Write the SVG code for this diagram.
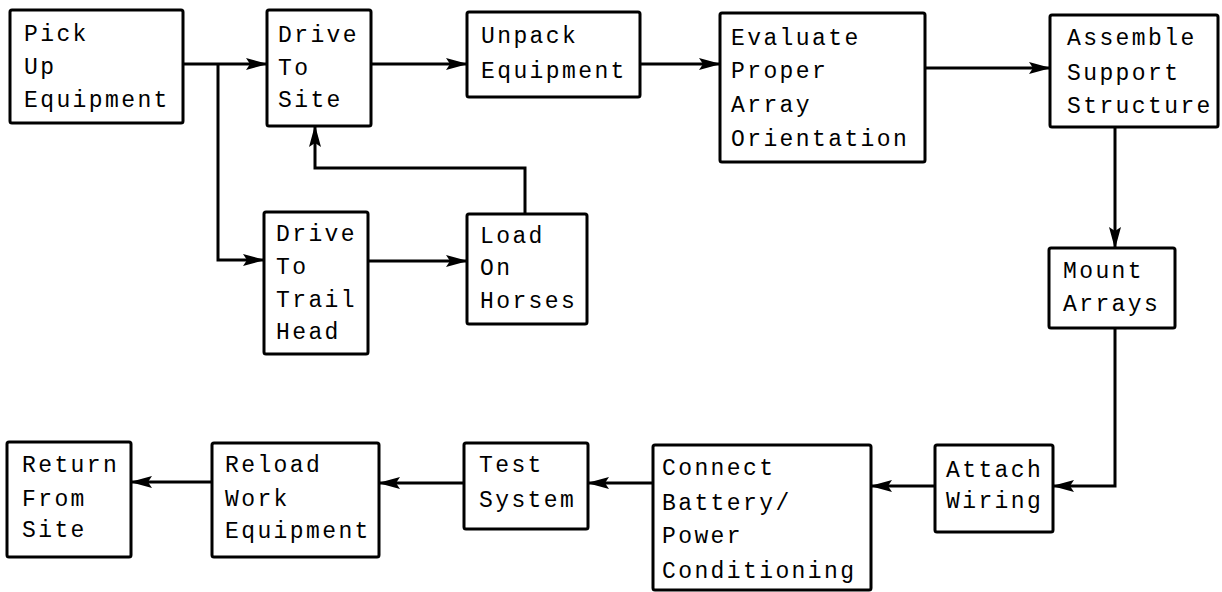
<svg xmlns="http://www.w3.org/2000/svg" width="1222" height="592" viewBox="0 0 1222 592">
  <style>
    .box { fill: #fff; stroke: #000; stroke-width: 3; }
    .lbl { font-family: "Liberation Mono", "DejaVu Sans Mono", monospace; font-size: 23px; letter-spacing: 2.4px; fill: #000; }
    .wire { fill: none; stroke: #000; stroke-width: 3; stroke-linejoin: miter; }
  </style>
  <defs>
    <marker id="arrow" markerUnits="userSpaceOnUse" markerWidth="22" markerHeight="12" refX="21" refY="6" orient="auto">
      <path d="M0,0 L22,6 L0,12 L4,6 Z" fill="#000"/>
    </marker>
  </defs>
  <rect width="1222" height="592" fill="#fff"/>

  <g id="connectors">
    <!-- pick up -> drive to site, with branch down to trail head -->
    <path class="wire" d="M183,64 H267" marker-end="url(#arrow)"/>
    <path class="wire" d="M218,64 V260 H264" marker-end="url(#arrow)"/>
    <!-- top row -->
    <path class="wire" d="M371,64 H467" marker-end="url(#arrow)"/>
    <path class="wire" d="M640,64 H720" marker-end="url(#arrow)"/>
    <path class="wire" d="M925,68 H1050" marker-end="url(#arrow)"/>
    <!-- trail head -> load on horses -> back to drive to site -->
    <path class="wire" d="M368,261 H467" marker-end="url(#arrow)"/>
    <path class="wire" d="M525,214 V168 H315 V126" marker-end="url(#arrow)"/>
    <!-- right column -->
    <path class="wire" d="M1115,127 V248" marker-end="url(#arrow)"/>
    <path class="wire" d="M1115,328 V486 H1053" marker-end="url(#arrow)"/>
    <!-- bottom row, right to left -->
    <path class="wire" d="M935,486 H871" marker-end="url(#arrow)"/>
    <path class="wire" d="M653,483 H588" marker-end="url(#arrow)"/>
    <path class="wire" d="M464,483 H379" marker-end="url(#arrow)"/>
    <path class="wire" d="M212,482 H131" marker-end="url(#arrow)"/>
  </g>

  <g id="pick-up">
    <rect class="box" x="10" y="10" width="173" height="113" rx="2"/>
    <text class="lbl" x="24" y="41">Pick</text>
    <text class="lbl" x="24" y="74">Up</text>
    <text class="lbl" x="24" y="107">Equipment</text>
  </g>

  <g id="drive-to-site">
    <rect class="box" x="267" y="10" width="104" height="116" rx="2"/>
    <text class="lbl" x="278" y="42">Drive</text>
    <text class="lbl" x="278" y="75">To</text>
    <text class="lbl" x="278" y="107">Site</text>
  </g>

  <g id="unpack">
    <rect class="box" x="467" y="12" width="173" height="85" rx="2"/>
    <text class="lbl" x="481" y="43">Unpack</text>
    <text class="lbl" x="481" y="78">Equipment</text>
  </g>

  <g id="evaluate">
    <rect class="box" x="720" y="13" width="205" height="149" rx="2"/>
    <text class="lbl" x="731" y="45">Evaluate</text>
    <text class="lbl" x="731" y="78">Proper</text>
    <text class="lbl" x="731" y="112">Array</text>
    <text class="lbl" x="731" y="146">Orientation</text>
  </g>

  <g id="assemble">
    <rect class="box" x="1050" y="15" width="168" height="112" rx="2"/>
    <text class="lbl" x="1067" y="45">Assemble</text>
    <text class="lbl" x="1067" y="80">Support</text>
    <text class="lbl" x="1067" y="113">Structure</text>
  </g>

  <g id="trail-head">
    <rect class="box" x="264" y="212" width="104" height="142" rx="2"/>
    <text class="lbl" x="276" y="241">Drive</text>
    <text class="lbl" x="276" y="274">To</text>
    <text class="lbl" x="276" y="307">Trail</text>
    <text class="lbl" x="276" y="339">Head</text>
  </g>

  <g id="load-horses">
    <rect class="box" x="467" y="214" width="120" height="110" rx="2"/>
    <text class="lbl" x="480" y="243">Load</text>
    <text class="lbl" x="480" y="275">On</text>
    <text class="lbl" x="480" y="308">Horses</text>
  </g>

  <g id="mount-arrays">
    <rect class="box" x="1049" y="248" width="126" height="80" rx="2"/>
    <text class="lbl" x="1063" y="278">Mount</text>
    <text class="lbl" x="1063" y="311">Arrays</text>
  </g>

  <g id="attach-wiring">
    <rect class="box" x="935" y="445" width="118" height="87" rx="2"/>
    <text class="lbl" x="946" y="477">Attach</text>
    <text class="lbl" x="946" y="508">Wiring</text>
  </g>

  <g id="connect-battery">
    <rect class="box" x="653" y="445" width="218" height="145" rx="2"/>
    <text class="lbl" x="662" y="475">Connect</text>
    <text class="lbl" x="662" y="510">Battery/</text>
    <text class="lbl" x="662" y="543">Power</text>
    <text class="lbl" x="662" y="578">Conditioning</text>
  </g>

  <g id="test-system">
    <rect class="box" x="464" y="443" width="124" height="86" rx="2"/>
    <text class="lbl" x="479" y="472">Test</text>
    <text class="lbl" x="479" y="507">System</text>
  </g>

  <g id="reload">
    <rect class="box" x="212" y="443" width="167" height="114" rx="2"/>
    <text class="lbl" x="225" y="472">Reload</text>
    <text class="lbl" x="225" y="506">Work</text>
    <text class="lbl" x="225" y="538">Equipment</text>
  </g>

  <g id="return">
    <rect class="box" x="7" y="442" width="124" height="115" rx="2"/>
    <text class="lbl" x="22" y="472">Return</text>
    <text class="lbl" x="22" y="506">From</text>
    <text class="lbl" x="22" y="537">Site</text>
  </g>
</svg>
